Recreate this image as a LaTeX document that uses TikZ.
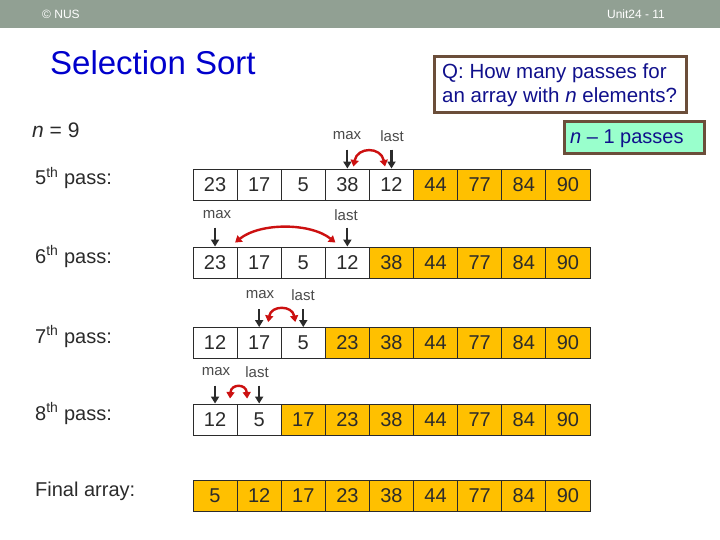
\documentclass[tikz,border=0pt]{standalone}
\usepackage{fontspec}
\setmainfont{Liberation Sans}
\usetikzlibrary{arrows.meta}
\definecolor{barc}{HTML}{91A093}
\definecolor{titleblue}{HTML}{0000CC}
\definecolor{qblue}{HTML}{10108C}
\definecolor{boxbrown}{HTML}{6B4E3A}
\definecolor{greenfill}{HTML}{99FFCC}
\definecolor{sortc}{HTML}{FFC000}
\definecolor{txt}{HTML}{2B2B2B}
\definecolor{lblc}{HTML}{4A4A4A}
\definecolor{redc}{HTML}{CC1010}
\newcommand\arrayrow[4]{%
  \foreach \v [count=\i] in {#4} {
    \ifnum\i>#3 \def\cellfill{sortc}\else\def\cellfill{white}\fi
    \node[cell, fill=\cellfill] (#1c\i) at ({193+(\i-0.5)*44.11}, #2) {\v};
  }%
}
\begin{document}
\begin{tikzpicture}[x=1pt,y=-1pt,
  cell/.style={draw=txt, line width=0.9pt, minimum width=44.11pt, minimum height=31pt,
    inner sep=0pt, text=txt, font=\fontsize{20}{24}\selectfont},
  rowlbl/.style={anchor=base west, text=txt, inner sep=0pt, font=\fontsize{20}{24}\selectfont},
  ptr/.style={text=lblc, inner sep=0pt, font=\fontsize{15}{18}\selectfont},
  blkarr/.style={draw=txt, line width=2.2pt, -{Triangle[length=7pt,width=8pt]}},
  swaparr/.style={draw=redc, line width=2.4pt, {Triangle[length=6.5pt,width=8pt]}-{Triangle[length=6.5pt,width=8pt]}},
  boxed/.style={draw=boxbrown, line width=3pt, inner sep=0pt}
]
\useasboundingbox (0,0) rectangle (720,540);
\fill[white] (0,0) rectangle (720,540);
% header bar
\fill[barc] (0,0) rectangle (720,28);
\node[text=white, font=\fontsize{12}{14}\selectfont] (copy) at (61,14) {© NUS};
\node[text=white, font=\fontsize{12}{14}\selectfont] (unit) at (636,14) {Unit24 - 11};
% title
\node[anchor=base west, inner sep=0pt, text=titleblue, font=\fontsize{33}{38}\selectfont] (title) at (50,75) {Selection Sort};
% question box
\node[boxed, fill=white, minimum width=252pt, minimum height=56pt, anchor=north west] (qbox) at (433,55) {};
\node[anchor=base west, inner sep=0pt, text=qblue, font=\fontsize{20.5}{24}\selectfont] (q1) at (442,79) {Q: How many passes for};
\node[anchor=base west, inner sep=0pt, text=qblue, font=\fontsize{20.5}{24}\selectfont] (q2) at (442,103) {an array with \textit{n} elements?};
% answer box
\node[boxed, fill=greenfill, minimum width=140pt, minimum height=32pt, anchor=north west] (abox) at (563,120) {};
\node[anchor=base west, inner sep=0pt, text=qblue, font=\fontsize{20}{24}\selectfont] (ans) at (570,144) {\textit{n} -- 1 passes};
% n = 9
\node[rowlbl, font=\fontsize{21}{24}\selectfont] (nnine) at (32,138) {\textit{n} = 9};
% row labels
\node[rowlbl] (l5) at (35,185) {5\textsuperscript{th} pass:};
\node[rowlbl] (l6) at (35,263) {6\textsuperscript{th} pass:};
\node[rowlbl] (l7) at (35,343) {7\textsuperscript{th} pass:};
\node[rowlbl] (l8) at (35,420) {8\textsuperscript{th} pass:};
\node[rowlbl] (lf) at (35,496) {Final array:};
% arrays
\arrayrow{a}{184.5}{5}{23,17,5,38,12,44,77,84,90}
\arrayrow{b}{262.5}{4}{23,17,5,12,38,44,77,84,90}
\arrayrow{c}{343}{3}{12,17,5,23,38,44,77,84,90}
\arrayrow{d}{419.5}{2}{12,5,17,23,38,44,77,84,90}
\arrayrow{e}{495.5}{0}{5,12,17,23,38,44,77,84,90}
% pass 5 pointers
\node[ptr] (amax) at (347,136) {max};
\node[ptr] (alast) at (392,136) {last};
\draw[blkarr] ([yshift=19pt]ac4.north) -- (ac4.north);
\draw[blkarr] ([yshift=19pt]ac5.north) -- (ac5.north);
\draw[swaparr] ([xshift=6pt,yshift=2pt]ac4.north) .. controls +(4,-20) and +(-4,-20) .. ([xshift=-6.5pt,yshift=2pt]ac5.north);
% pass 6 pointers
\node[ptr] (bmax) at (217,215) {max};
\node[ptr] (blast) at (346,215) {last};
\draw[blkarr] ([yshift=19pt]bc1.north) -- (bc1.north);
\draw[blkarr] ([yshift=19pt]bc4.north) -- (bc4.north);
\draw[swaparr] ([xshift=20pt,yshift=4pt]bc1.north) .. controls +(25,-20) and +(-25,-20) .. ([xshift=-12pt,yshift=4pt]bc4.north);
% pass 7 pointers
\node[ptr] (cmax) at (260,295) {max};
\node[ptr] (clast) at (303,295) {last};
\draw[blkarr] ([yshift=18pt]cc2.north) -- (cc2.north);
\draw[blkarr] ([yshift=18pt]cc3.north) -- (cc3.north);
\draw[swaparr] ([xshift=9pt,yshift=5pt]cc2.north) .. controls +(3,-17) and +(-3,-17) .. ([xshift=-8pt,yshift=5pt]cc3.north);
% pass 8 pointers
\node[ptr] (dmax) at (216,372) {max};
\node[ptr] (dlast) at (257,372) {last};
\draw[blkarr] ([yshift=18pt]dc1.north) -- (dc1.north);
\draw[blkarr] ([yshift=18pt]dc2.north) -- (dc2.north);
\draw[swaparr] ([xshift=15pt,yshift=5pt]dc1.north) .. controls +(1,-15) and +(-1,-15) .. ([xshift=-12pt,yshift=5pt]dc2.north);
\end{tikzpicture}
\end{document}
